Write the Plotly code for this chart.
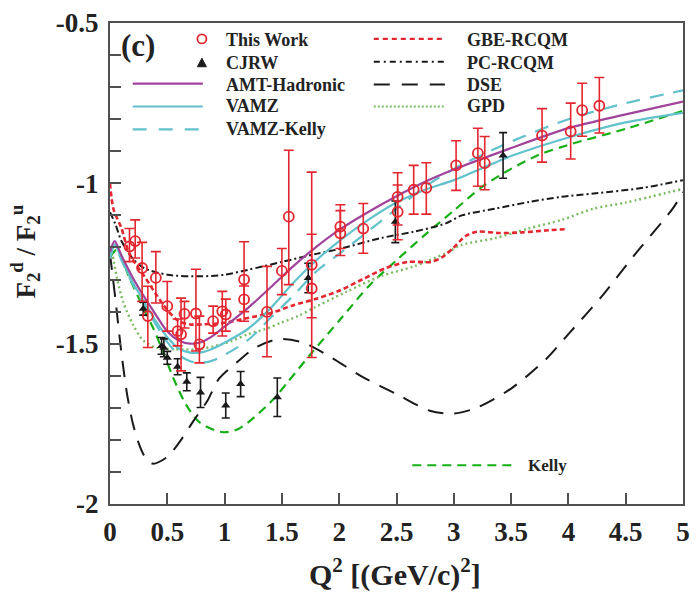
import plotly.graph_objects as go

# ---------------- data ----------------
# This Work: Q^2 [(GeV/c)^2], F2d/F2u, upper and lower ends of the error bars
work_q2 = [0.17, 0.22, 0.28, 0.33, 0.40, 0.50, 0.59, 0.62, 0.65, 0.75, 0.78, 0.90,
           0.98, 1.01, 1.17, 1.17, 1.37, 1.50, 1.56, 1.76, 1.76, 2.01, 2.01, 2.21,
           2.51, 2.51, 2.65, 2.76, 3.02, 3.21, 3.27, 3.77, 4.02, 4.12, 4.27]
work_ratio = [-1.197, -1.180, -1.264, -1.414, -1.295, -1.383, -1.461, -1.471, -1.407,
              -1.406, -1.502, -1.430, -1.399, -1.409, -1.300, -1.362, -1.401, -1.273,
              -1.104, -1.254, -1.328, -1.135, -1.156, -1.141, -1.042, -1.089, -1.020,
              -1.014, -0.944, -0.906, -0.937, -0.851, -0.838, -0.772, -0.758]
work_hi = [-1.141, -1.114, -1.184, -1.321, -1.213, -1.306, -1.423, -1.358, -1.368,
           -1.268, -1.414, -1.383, -1.337, -1.361, -1.182, -1.320, -1.259, -1.203,
           -0.897, -0.965, -1.159, -1.067, -1.085, -1.063, -0.967, -1.005, -0.944,
           -0.936, -0.867, -0.828, -0.854, -0.767, -0.750, -0.688, -0.670]
work_lo = [-1.244, -1.233, -1.368, -1.512, -1.373, -1.461, -1.507, -1.585, -1.451,
           -1.523, -1.560, -1.467, -1.476, -1.461, -1.430, -1.400, -1.541, -1.347,
           -1.316, -1.543, -1.419, -1.203, -1.225, -1.218, -1.130, -1.176, -1.096,
           -1.096, -1.022, -1.009, -1.020, -0.934, -0.924, -0.853, -0.843]

# CJRW
cjrw_q2 = [0.29, 0.45, 0.47, 0.50, 0.59, 0.67, 0.79, 1.01, 1.14, 1.46, 1.73, 2.49, 3.43]
cjrw_ratio = [-1.391, -1.507, -1.513, -1.544, -1.572, -1.619, -1.652, -1.693, -1.626,
              -1.667, -1.295, -1.120, -0.913]
cjrw_err = [0.020, 0.026, 0.028, 0.020, 0.025, 0.028, 0.047, 0.039, 0.039, 0.060,
            0.046, 0.065, 0.071]

# Model curves
amt_q2 = [0, 0.04, 0.1, 0.2, 0.3, 0.4, 0.5, 0.6, 0.7, 0.8, 0.9, 1.0, 1.2, 1.4, 1.6,
          1.8, 2.0, 2.25, 2.5, 2.75, 3.0, 3.5, 4.0, 4.5, 5.0]
amt_ratio = [-1.215, -1.18, -1.225, -1.295, -1.355, -1.41, -1.462, -1.49, -1.50, -1.495,
             -1.475, -1.447, -1.39, -1.325, -1.258, -1.198, -1.145, -1.09, -1.04, -0.995,
             -0.957, -0.89, -0.828, -0.785, -0.745]

vamz_q2 = [0, 0.04, 0.1, 0.2, 0.3, 0.4, 0.5, 0.6, 0.7, 0.8, 0.9, 1.0, 1.2, 1.4, 1.6,
           1.8, 2.0, 2.25, 2.5, 2.75, 3.0, 3.5, 4.0, 4.5, 5.0]
vamz_ratio = [-1.23, -1.19, -1.235, -1.31, -1.37, -1.43, -1.48, -1.515, -1.528, -1.527,
              -1.515, -1.497, -1.455, -1.39, -1.31, -1.24, -1.18, -1.115, -1.06, -1.02,
              -0.99, -0.915, -0.857, -0.81, -0.78]

vamzk_q2 = [0, 0.04, 0.1, 0.2, 0.3, 0.4, 0.5, 0.6, 0.7, 0.8, 0.9, 1.0, 1.2, 1.4, 1.6,
            1.8, 2.0, 2.25, 2.5, 2.75, 3.0, 3.5, 4.0, 4.5, 5.0]
vamzk_ratio = [-1.235, -1.195, -1.24, -1.315, -1.38, -1.44, -1.495, -1.535, -1.555, -1.56,
               -1.552, -1.535, -1.49, -1.42, -1.35, -1.275, -1.22, -1.15, -1.08, -1.01,
               -0.955, -0.87, -0.80, -0.75, -0.71]

gbe_q2 = [0, 0.03, 0.1, 0.17, 0.3, 0.4, 0.5, 0.6, 0.7, 0.8, 1.0, 1.2, 1.4, 1.6, 1.8,
          2.0, 2.2, 2.4, 2.6, 2.8, 2.9, 3.0, 3.1, 3.2, 3.4, 3.6, 3.8, 3.98]
gbe_ratio = [-1.0, -1.08, -1.14, -1.22, -1.29, -1.345, -1.395, -1.43, -1.44, -1.44,
             -1.435, -1.42, -1.405, -1.38, -1.36, -1.335, -1.30, -1.265, -1.245, -1.245,
             -1.23, -1.20, -1.165, -1.151, -1.155, -1.153, -1.147, -1.143]

pc_q2 = [0, 0.05, 0.1, 0.2, 0.3, 0.5, 0.8, 1.0, 1.2, 1.5, 1.8, 2.0, 2.36, 2.65, 2.93,
         3.07, 3.36, 3.66, 3.94, 4.22, 4.65, 5.0]
pc_ratio = [-1.09, -1.13, -1.18, -1.235, -1.265, -1.285, -1.29, -1.285, -1.27, -1.245,
            -1.22, -1.205, -1.171, -1.151, -1.125, -1.10, -1.079, -1.058, -1.042, -1.032,
            -1.014, -0.99]

dse_q2 = [0, 0.05, 0.1, 0.15, 0.2, 0.25, 0.3, 0.37, 0.5, 0.62, 0.73, 0.85, 0.95, 1.12,
          1.27, 1.47, 1.69, 1.93, 2.21, 2.5, 2.79, 3.0, 3.2, 3.5, 3.8, 4.0, 4.28, 4.6,
          4.91, 5.0]
dse_ratio = [-1.22, -1.37, -1.53, -1.66, -1.75, -1.81, -1.85, -1.874, -1.853, -1.80,
             -1.74, -1.678, -1.61, -1.554, -1.512, -1.486, -1.497, -1.543, -1.605,
             -1.657, -1.709, -1.718, -1.70, -1.64, -1.55, -1.47, -1.357, -1.213,
             -1.079, -1.027]

gpd_q2 = [0, 0.02, 0.06, 0.115, 0.2, 0.29, 0.4, 0.55, 0.77, 0.92, 1.06, 1.2, 1.35,
          1.49, 1.64, 1.78, 2.07, 2.36, 2.65, 2.93, 3.07, 3.36, 3.65, 3.94, 4.22, 4.5, 5.0]
gpd_ratio = [-1.20, -1.22, -1.295, -1.37, -1.44, -1.49, -1.512, -1.517, -1.517, -1.507,
             -1.492, -1.471, -1.455, -1.435, -1.414, -1.388, -1.337, -1.29, -1.259,
             -1.218, -1.192, -1.171, -1.141, -1.114, -1.079, -1.06, -1.017]

kelly_q2 = [0, 0.06, 0.17, 0.29, 0.375, 0.46, 0.55, 0.66, 0.78, 0.98, 1.12, 1.26, 1.43,
            1.55, 1.75, 2.01, 2.27, 2.5, 2.75, 3.0, 3.25, 3.5, 3.75, 4.0, 4.5, 5.0]
kelly_ratio = [-1.23, -1.207, -1.295, -1.388, -1.45, -1.523, -1.605, -1.688, -1.745,
               -1.776, -1.766, -1.729, -1.672, -1.62, -1.533, -1.424, -1.316, -1.24,
               -1.16, -1.085, -1.01, -0.955, -0.91, -0.88, -0.83, -0.774]

x_tick_vals = [0, 0.5, 1, 1.5, 2, 2.5, 3, 3.5, 4, 4.5, 5]
x_tick_text = ["0", "0.5", "1", "1.5", "2", "2.5", "3", "3.5", "4", "4.5", "5"]
y_tick_vals = [-2, -1.5, -1, -0.5]
y_tick_text = ["-2", "-1.5", "-1", "-0.5"]

# ---------------- styling ----------------
SERIF = "Liberation Serif, Times New Roman, serif"
RED = "#e3262f"
PURPLE = "#a0439b"
CYAN = "#62c2cc"
GPD_GREEN = "#7dbb63"
KELLY_GREEN = "#16b016"
BLACK = "#1a1a1a"
TEXT = "#222222"

W, H = 698, 597
L, R, T, B = 110, 8, 20, 93
PW, PH = W - L - R, H - T - B


def px_x(p):
    return (p - L) / PW


def px_y(p):
    return (H - B - p) / PH


def bold_font(size):
    return dict(family=SERIF, size=size, color=TEXT, weight="bold")


curves = [
    (kelly_q2, kelly_ratio, KELLY_GREEN, "9px,6px", 2.2),
    (dse_q2, dse_ratio, BLACK, "16px,11px", 2.0),
    (gpd_q2, gpd_ratio, GPD_GREEN, "2px,3px", 2.4),
    (pc_q2, pc_ratio, BLACK, "7px,3px,2px,3px", 2.0),
    (gbe_q2, gbe_ratio, RED, "5px,3px", 2.6),
    (vamzk_q2, vamzk_ratio, CYAN, "14px,10px", 2.2),
    (vamz_q2, vamz_ratio, CYAN, "solid", 2.2),
    (amt_q2, amt_ratio, PURPLE, "solid", 2.2),
]

fig = go.Figure()
for xs, ys, col, dash, w in curves:
    fig.add_trace(go.Scatter(x=xs, y=ys, mode="lines",
                             line=dict(color=col, dash=dash, width=w, shape="spline",
                                       smoothing=0.8),
                             hoverinfo="skip", showlegend=False))

fig.add_trace(go.Scatter(
    x=cjrw_q2, y=cjrw_ratio, mode="markers",
    marker=dict(symbol="triangle-up", size=8, color=BLACK),
    error_y=dict(type="data", array=cjrw_err, color=BLACK, thickness=1.6, width=4),
    showlegend=False))

fig.add_trace(go.Scatter(
    x=work_q2, y=work_ratio, mode="markers",
    marker=dict(symbol="circle-open", size=10, color=RED, line=dict(width=1.8, color=RED)),
    error_y=dict(type="data", symmetric=False,
                 array=[h - v for h, v in zip(work_hi, work_ratio)],
                 arrayminus=[v - lo for v, lo in zip(work_ratio, work_lo)],
                 color=RED, thickness=1.6, width=5),
    showlegend=False))

# ---------------- legend (drawn inside the frame) ----------------
shapes = []
annotations = []


def legend_line(x0, x1, y, col, dash, w):
    shapes.append(dict(type="line", xref="paper", yref="paper",
                       x0=px_x(x0), x1=px_x(x1), y0=px_y(y), y1=px_y(y),
                       line=dict(color=col, dash=dash, width=w)))


def legend_text(x, y, txt, size=18):
    annotations.append(dict(x=px_x(x), y=px_y(y), xref="paper", yref="paper",
                            text=txt, showarrow=False, xanchor="left",
                            yanchor="middle", font=bold_font(size)))


# column 1
shapes.append(dict(type="circle", xref="paper", yref="paper", xsizemode="pixel",
                   ysizemode="pixel", xanchor=px_x(203), yanchor=px_y(36),
                   x0=-4.5, x1=4.5, y0=-4.5, y1=4.5, line=dict(color=RED, width=1.8)))
shapes.append(dict(type="path", xref="paper", yref="paper", xsizemode="pixel",
                   ysizemode="pixel", xanchor=px_x(203), yanchor=px_y(60),
                   path="M -4.5,-4 L 4.5,-4 L 0,4.5 Z", fillcolor=BLACK,
                   line=dict(color=BLACK, width=1)))
legend_line(133, 204, 81, PURPLE, "solid", 2.2)
legend_line(133, 204, 104, CYAN, "solid", 2.2)
legend_line(133, 204, 127, CYAN, "14px,12px", 2.2)
legend_text(225, 37, "This Work")
legend_text(225, 60, "CJRW")
legend_text(225, 82, "AMT-Hadronic")
legend_text(225, 104, "VAMZ")
legend_text(225, 127, "VAMZ-Kelly")

# column 2
legend_line(377, 449, 36, RED, "5px,4px", 2.4)
legend_line(377, 449, 59, BLACK, "6px,4px,2px,4px", 2.0)
legend_line(377, 449, 82, BLACK, "16px,12px", 2.0)
legend_line(377, 449, 104, GPD_GREEN, "2px,2px", 2.0)
legend_text(469, 37, "GBE-RCQM")
legend_text(469, 60, "PC-RCQM")
legend_text(469, 82, "DSE")
legend_text(469, 104, "GPD")

# Kelly entry near the bottom
legend_line(416, 522, 465, KELLY_GREEN, "9px,6px", 2.2)
legend_text(531, 465, "Kelly", size=17)

# panel tag
legend_text(119, 43, "(c)", size=31)

# axis titles
annotations.append(dict(x=px_x(398), y=px_y(573), xref="paper", yref="paper",
                        text="Q<sup>2</sup> [(GeV/c)<sup>2</sup>]", showarrow=False,
                        xanchor="center", yanchor="middle", font=bold_font(30)))
annotations.append(dict(x=px_x(24), y=px_y(250), xref="paper", yref="paper",
                        text="F<sub>2</sub><sup>d</sup> / F<sub>2</sub><sup>u</sup>",
                        showarrow=False, textangle=-90, xanchor="center", yanchor="middle",
                        font=bold_font(27)))

axis_common = dict(showline=True, linecolor="#505050", linewidth=2, mirror=True,
                   ticks="inside", ticklen=11, tickwidth=1.5, tickcolor="#505050",
                   showgrid=False, zeroline=False, tickfont=bold_font(27))

fig.update_layout(
    width=W, height=H,
    margin=dict(l=L, r=R, t=T, b=B),
    paper_bgcolor="white", plot_bgcolor="white",
    xaxis=dict(range=[0, 5], tickmode="array", tickvals=x_tick_vals,
               ticktext=x_tick_text, ticklabelstandoff=3, **axis_common),
    yaxis=dict(range=[-2, -0.5], tickmode="array", tickvals=y_tick_vals,
               ticktext=y_tick_text, ticklabelstandoff=4,
               minor=dict(dtick=0.1, tick0=-2, ticks="inside", ticklen=11,
                          tickcolor="#505050", tickwidth=1.5, showgrid=False),
               **axis_common),
    shapes=shapes, annotations=annotations,
    showlegend=False,
)

fig.write_html("out.html")
